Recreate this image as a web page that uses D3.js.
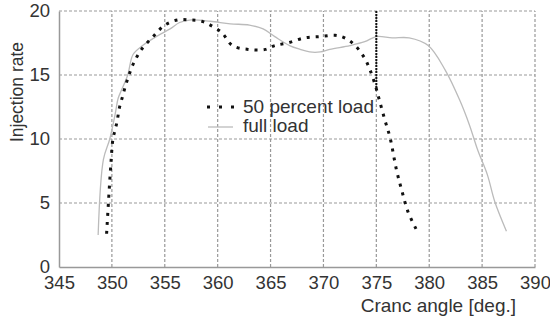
<!DOCTYPE html>
<html>
<head>
<meta charset="utf-8">
<script src="https://cdn.jsdelivr.net/npm/d3@7"></script>
<style>
  body { margin: 0; background: #fff; }
  svg text { font-family: "Liberation Sans", Arial, sans-serif; fill: #333; }
</style>
</head>
<body>
<div id="chart"></div>
<script>
// crank angle [deg.] / injection rate
const halfLoadAngle = [349.5, 349.9, 350.1, 350.3, 350.5, 350.7, 351.0, 351.3, 351.7, 352.1, 352.8, 353.9, 355.0, 356.2, 357.4, 358.5, 359.3, 360.4, 361.4, 362.9, 364.5, 365.4, 366.6, 368.2, 369.7, 371.1, 372.0, 373.0, 373.9, 374.4, 374.9, 375.3, 375.8, 376.3, 376.9, 377.4, 378.0, 378.8];
const halfLoadRate  = [2.6, 8.0, 10.0, 10.7, 11.4, 12.4, 13.3, 14.2, 15.2, 16.0, 17.0, 18.0, 18.9, 19.3, 19.3, 19.2, 18.9, 18.3, 17.3, 17.0, 17.0, 17.3, 17.5, 17.9, 18.0, 18.1, 17.9, 17.3, 16.3, 15.4, 14.2, 13.0, 11.5, 10.1, 7.6, 6.0, 4.3, 2.9];

const fullLoadAngle = [348.7, 349.2, 349.8, 350.3, 350.6, 350.9, 351.5, 352.0, 352.9, 354.4, 355.5, 356.4, 357.5, 359.3, 361.2, 363.0, 364.3, 365.4, 366.8, 367.8, 368.7, 369.7, 370.6, 372.5, 373.9, 375.0, 376.5, 378.1, 379.9, 381.5, 382.9, 383.8, 384.6, 385.5, 386.2, 387.3];
const fullLoadRate  = [2.5, 8.4, 10.0, 11.9, 13.2, 13.8, 15.0, 16.6, 17.3, 18.1, 18.6, 19.1, 19.3, 19.2, 19.0, 18.9, 18.6, 18.0, 17.3, 17.0, 16.8, 16.8, 17.0, 17.3, 17.6, 18.0, 17.9, 17.9, 17.3, 15.4, 13.0, 11.1, 9.1, 7.2, 5.1, 2.8];

// vertical marker at 375 deg
const markerAngle = [375, 375];
const markerRate  = [20, 13.8];

const xTicks = [345, 350, 355, 360, 365, 370, 375, 380, 385, 390];
const yTicks = [0, 5, 10, 15, 20];

const W = 550, H = 320;
const m = { left: 59, right: 15, top: 11, bottom: 53 };

const svg = d3.select('#chart').append('svg')
  .attr('width', W).attr('height', H);

const x = d3.scaleLinear().domain([345, 390]).range([m.left, W - m.right]);
const y = d3.scaleLinear().domain([0, 20]).range([H - m.bottom, m.top]);

// grid (dashed, including top and right edges)
const grid = svg.append('g');

grid.selectAll('line.v')
  .data(xTicks.slice(1))
  .join('line')
    .attr('class', 'v')
    .attr('x1', d => x(d)).attr('x2', d => x(d))
    .attr('y1', y(0)).attr('y2', y(20))
    .style('stroke', '#999').style('stroke-width', 1.2).style('stroke-dasharray', '3,2');

grid.selectAll('line.h')
  .data(yTicks.slice(1))
  .join('line')
    .attr('class', 'h')
    .attr('x1', x(345)).attr('x2', x(390))
    .attr('y1', d => y(d)).attr('y2', d => y(d))
    .style('stroke', '#999').style('stroke-width', 1.2).style('stroke-dasharray', '3,2');

// axes
const xAxis = svg.append('g')
  .attr('transform', `translate(0,${y(0)})`)
  .call(d3.axisBottom(x).tickValues(xTicks).tickSize(0).tickPadding(9));
const yAxis = svg.append('g')
  .attr('transform', `translate(${x(345)},0)`)
  .call(d3.axisLeft(y).tickValues(yTicks).tickSize(0).tickPadding(9));

[xAxis, yAxis].forEach(a => {
  a.select('.domain').attr('stroke', '#999').attr('stroke-width', 1.5);
  a.selectAll('text').style('font-size', '18.5px').attr('fill', '#333');
});

svg.append('path')
  .datum(d3.zip(fullLoadAngle, fullLoadRate))
  .attr('d', d3.line().x(d => x(d[0])).y(d => y(d[1])).curve(d3.curveCatmullRom))
  .attr('fill', 'none')
  .attr('stroke', '#bbb')
  .attr('stroke-width', 1.3);

svg.append('path')
  .datum(d3.zip(halfLoadAngle, halfLoadRate))
  .attr('d', d3.line().x(d => x(d[0])).y(d => y(d[1])).curve(d3.curveCatmullRom))
  .attr('fill', 'none')
  .attr('stroke', '#111')
  .attr('stroke-width', 3)
  .attr('stroke-dasharray', '3,6');

svg.append('path')
  .datum(d3.zip(markerAngle, markerRate))
  .attr('d', d3.line().x(d => x(d[0])).y(d => y(d[1])))
  .attr('fill', 'none')
  .attr('stroke', '#111')
  .attr('stroke-width', 2)
  .attr('stroke-dasharray', '2,1');

// legend
const lg = svg.append('g');
lg.append('line')
  .attr('x1', 207).attr('x2', 235).attr('y1', 107).attr('y2', 107)
  .attr('stroke', '#111').attr('stroke-width', 3).attr('stroke-dasharray', '3,9');
lg.append('text').attr('x', 243).attr('y', 113).style('font-size', '19px').text('50 percent load');
lg.append('line')
  .attr('x1', 208).attr('x2', 233).attr('y1', 127).attr('y2', 127)
  .attr('stroke', '#bbb').attr('stroke-width', 1.3);
lg.append('text').attr('x', 243).attr('y', 132).style('font-size', '19px').text('full load');

// axis titles
svg.append('text')
  .attr('x', 516).attr('y', 312)
  .attr('text-anchor', 'end')
  .style('font-size', '19px')
  .text('Cranc angle [deg.]');

svg.append('text')
  .attr('transform', 'translate(23,92) rotate(-90)')
  .attr('text-anchor', 'middle')
  .style('font-size', '17.5px')
  .text('Injection rate');
</script>
</body>
</html>
